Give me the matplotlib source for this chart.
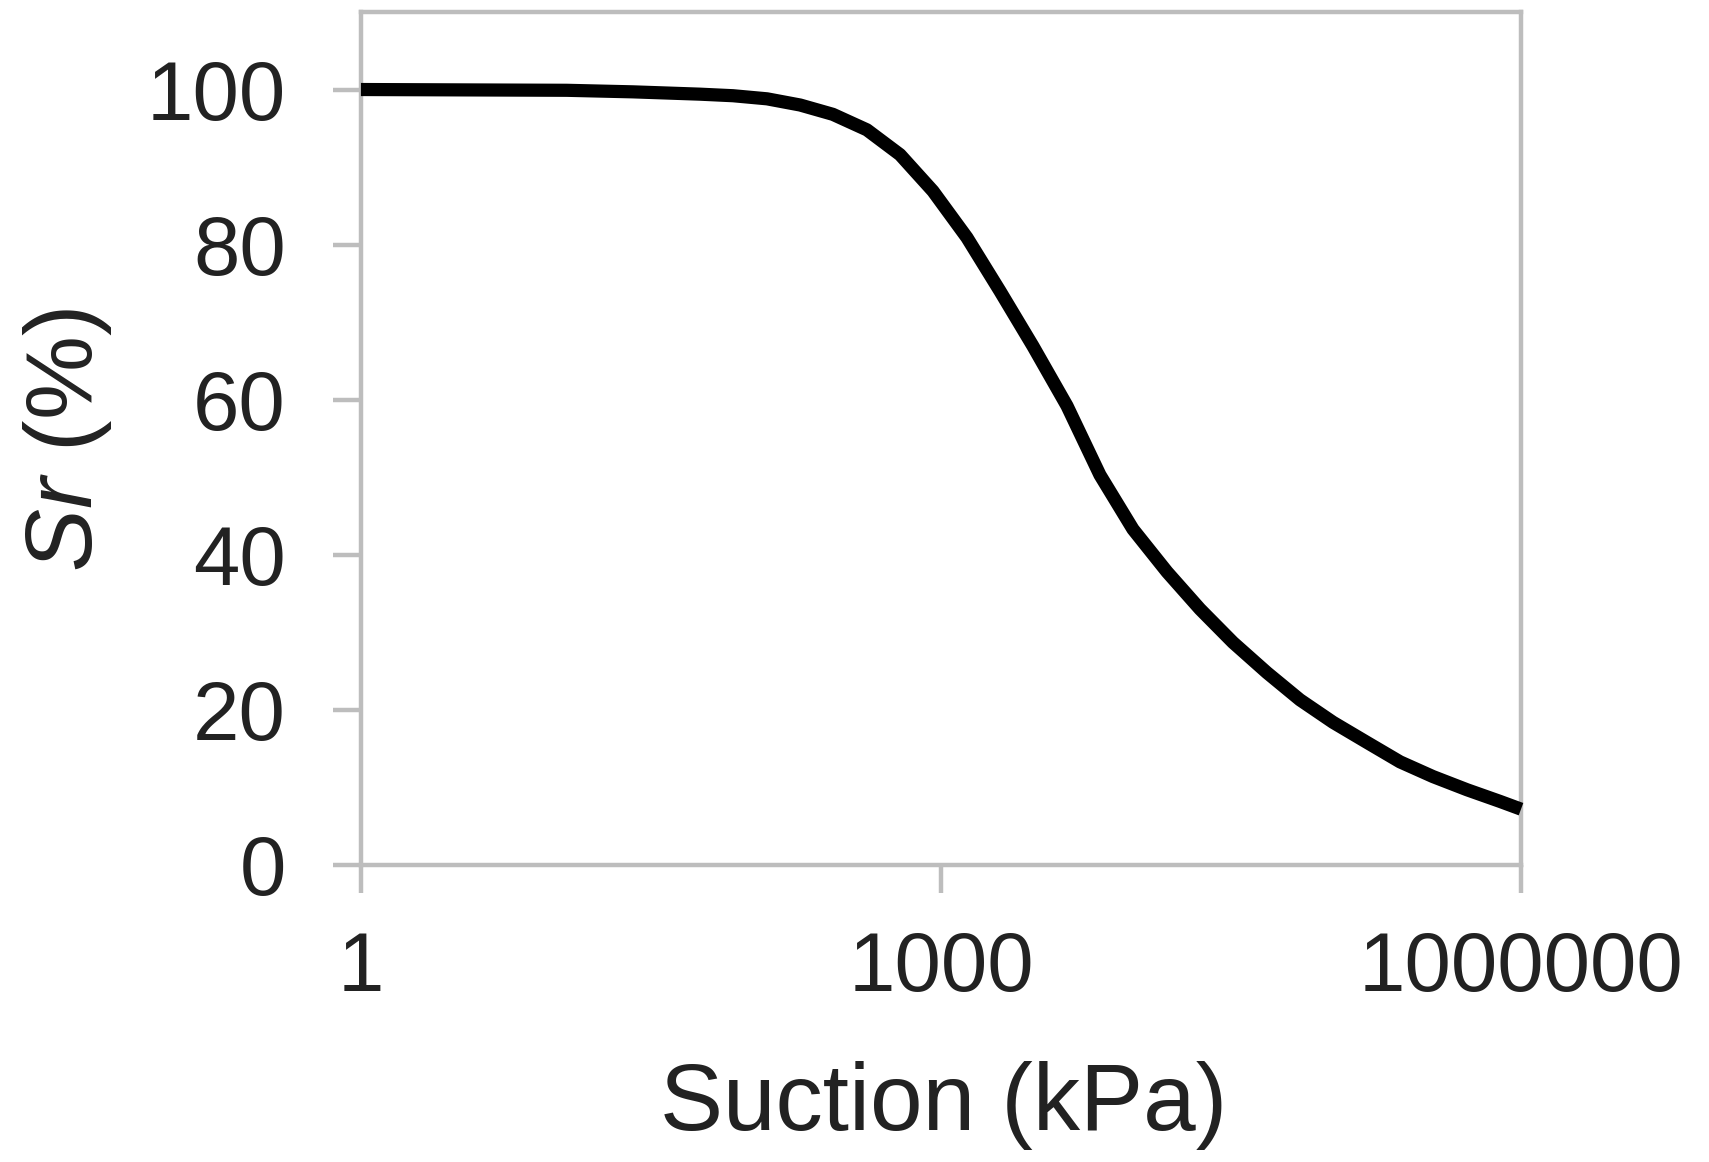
import matplotlib
matplotlib.use('Agg')
from matplotlib import pyplot as plt

plt.rcParams['font.family'] = ['Liberation Sans', 'DejaVu Sans']
plt.rcParams['mathtext.fontset'] = 'custom'
plt.rcParams['mathtext.it'] = 'Liberation Sans:italic'
plt.rcParams['mathtext.rm'] = 'Liberation Sans'

# suction (kPa) and degree of saturation (%)
suction = [1, 11.6, 25.5, 56.7, 84, 126, 187, 276, 414, 614, 909, 1363, 2020,
           2992, 4487, 6640, 9840, 14760, 21860, 32380, 48560, 71900, 106600,
           159900, 236800, 350700, 526000, 778600, 1000000]
sr = [100, 99.9, 99.7, 99.4, 99.2, 98.8, 98.0, 96.8, 94.8, 91.6, 86.9, 80.9,
      74.0, 66.9, 59.2, 50.3, 43.3, 37.8, 33.0, 28.7, 24.8, 21.3, 18.4, 15.8,
      13.3, 11.4, 9.7, 8.2, 7.2]

x_ticks = [1, 1000, 1000000]
x_labels = ['1', '1000', '1000000']
y_ticks = [0, 20, 40, 60, 80, 100]

grey = '#bdbdbd'
txt = '#222222'

fig = plt.figure(figsize=(17.09, 11.62), dpi=100)
ax = fig.add_axes([0.2112, 0.2556, 0.6788, 0.7341])

ax.plot(suction, sr, color='black', linewidth=9.5, solid_capstyle='butt',
        solid_joinstyle='round', clip_on=False, zorder=3)

ax.set_xscale('log')
ax.set_xlim(1, 1000000)
ax.set_ylim(0, 110)
ax.set_xticks(x_ticks)
ax.set_xticklabels(x_labels)
ax.minorticks_off()
ax.set_yticks(y_ticks)

for s in ax.spines.values():
    s.set_color(grey)
    s.set_linewidth(3.2)

ax.tick_params(axis='both', direction='out', length=20, width=3.2,
               color=grey, labelsize=60, labelcolor=txt)
ax.tick_params(axis='x', pad=27)
ax.tick_params(axis='y', pad=34)

ax.set_xlabel('Suction (kPa)', fontsize=68, color=txt)
ax.set_ylabel(r'$\mathit{Sr}$ (%)', fontsize=68, color=txt)
ax.xaxis.label.set_va('center')
ax.yaxis.label.set_va('center')
ax.xaxis.set_label_coords(0.502, -0.2825)
ax.yaxis.set_label_coords(-0.2526, 0.498)

fig.savefig('out.png', dpi=100)
